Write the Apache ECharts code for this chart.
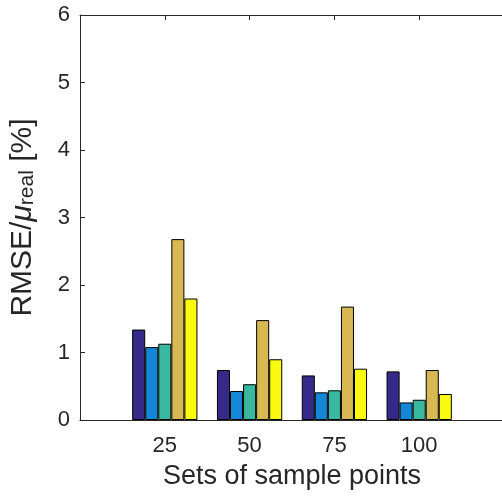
<!DOCTYPE html>
<html><head><meta charset="utf-8">
<script src="https://cdn.jsdelivr.net/npm/echarts@6/dist/echarts.min.js"></script>
<style>html,body{margin:0;padding:0;background:#fff}#c{width:502px;height:497px}</style>
</head><body><div id="c"></div>
<script>
const categories = [25, 50, 75, 100];
const series1 = [1.34, 0.74, 0.66, 0.72];
const series2 = [1.08, 0.43, 0.41, 0.26];
const series3 = [1.13, 0.53, 0.44, 0.30];
const series4 = [2.68, 1.48, 1.68, 0.74];
const series5 = [1.80, 0.90, 0.76, 0.385];
const yTicks = [0, 1, 2, 3, 4, 5, 6];
const xRange = [0, 125];
const colors = ['#352A87', '#1487D6', '#38B89E', '#D8B852', '#F9FA0E'];
const allSeries = [series1, series2, series3, series4, series5];

const txt = '#262626';
const font = 'Liberation Sans, Arial, Helvetica, sans-serif';
const chart = echarts.init(document.getElementById('c'), null, {renderer: 'canvas'});
const axisCommon = {
  axisLine: {show: true, lineStyle: {color: txt, width: 1}},
  axisTick: {show: true, inside: true, length: 5, lineStyle: {color: txt}},
  splitLine: {show: false}
};
chart.setOption({
  animation: false,
  backgroundColor: '#fff',
  grid: {left: 80, top: 15, right: -2, bottom: 77, containLabel: false, outerBoundsMode: 'none'},
  xAxis: [
    Object.assign({
      type: 'value', min: xRange[0], max: xRange[1], interval: 25, position: 'bottom',
      axisLabel: {fontSize: 22, color: txt, fontFamily: font, margin: 15,
        formatter: v => categories.includes(v) ? String(v) : ''},
      name: 'Sets of sample points', nameLocation: 'middle', nameGap: 43,
      nameTextStyle: {fontSize: 27, color: txt, fontFamily: font}
    }, axisCommon),
    Object.assign({
      type: 'value', min: xRange[0], max: xRange[1], interval: 25, position: 'top',
      axisLabel: {show: false}
    }, axisCommon)
  ],
  yAxis: Object.assign({
    type: 'value', min: yTicks[0], max: yTicks[yTicks.length - 1], interval: 1,
    axisLabel: {fontSize: 22, color: txt, fontFamily: font, margin: 10},
    name: '{m|RMSE/}{mu|μ}{s|real}{m| [%]}', nameLocation: 'middle', nameRotate: 90, nameGap: 42,
    nameTextStyle: {
      color: txt, fontFamily: font,
      rich: {
        m: {fontSize: 30, lineHeight: 30, verticalAlign: 'top', color: txt, fontFamily: font},
        mu: {fontSize: 30, lineHeight: 30, verticalAlign: 'top', fontStyle: 'italic', color: txt, fontFamily: font},
        s: {fontSize: 21, lineHeight: 21, padding: [17, 0, 0, 0], verticalAlign: 'bottom', color: txt, fontFamily: font}
      }
    }
  }, axisCommon),
  series: allSeries.map((arr, i) => ({
    type: 'bar',
    xAxisIndex: 0,
    data: categories.map((c, j) => [c, arr[j]]),
    barGap: '0%',
    barCategoryGap: '23%',
    itemStyle: {color: colors[i], borderColor: '#000', borderWidth: 1},
    silent: true
  }))
});
</script></body></html>
